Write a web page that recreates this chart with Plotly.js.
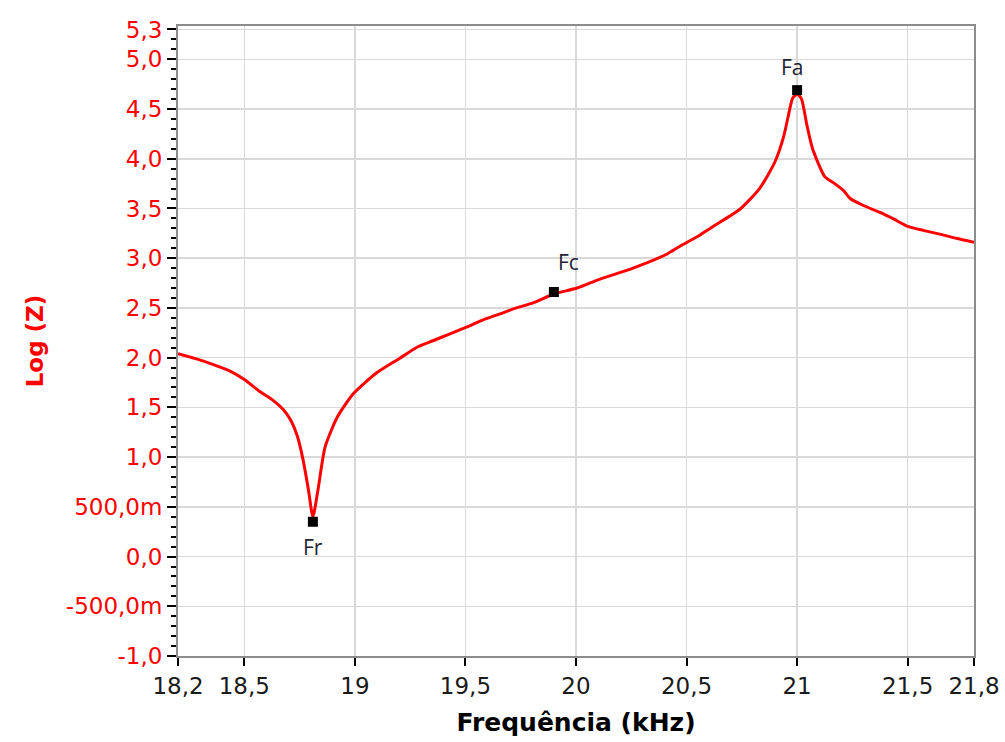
<!DOCTYPE html>
<html>
<head>
<meta charset="utf-8">
<script src="https://cdn.plot.ly/plotly-3.0.1.min.js"></script>
<style>html,body{margin:0;padding:0;background:#fff;}#chart{width:1005px;height:742px;}</style>
</head>
<body>
<div id="chart"></div>
<script>
// Frequency (kHz) and Log(Z)
const freq = [18.2, 18.28, 18.36, 18.44, 18.5, 18.57, 18.63, 18.675, 18.71, 18.74, 18.765, 18.79, 18.81,
  18.833, 18.865, 18.92, 18.99, 19.1, 19.2, 19.285, 19.353, 19.43, 19.507, 19.58, 19.656, 19.73, 19.806,
  19.9, 20.005, 20.109, 20.258, 20.41, 20.47, 20.552, 20.62, 20.74, 20.83, 20.9, 20.94, 20.96, 20.98, 21.0,
  21.02, 21.045, 21.07, 21.125, 21.17, 21.21, 21.24, 21.3, 21.375, 21.44, 21.5, 21.57, 21.65, 21.72, 21.8];
const logZ = [2.04, 1.99, 1.93, 1.86, 1.78, 1.66, 1.57, 1.48, 1.37, 1.21, 0.98, 0.67, 0.40,
  0.67, 1.10, 1.40, 1.63, 1.85, 1.99, 2.11, 2.17, 2.24, 2.31, 2.38, 2.44, 2.50, 2.55,
  2.64, 2.70, 2.79, 2.90, 3.04, 3.12, 3.22, 3.32, 3.49, 3.70, 3.97, 4.23, 4.43, 4.61, 4.65,
  4.60, 4.33, 4.10, 3.82, 3.75, 3.68, 3.60, 3.53, 3.46, 3.39, 3.32, 3.28, 3.24, 3.20, 3.16];

// Marked points
const markNames = ["Fr", "Fc", "Fa"];
const markFreq = [18.81, 19.9, 21.0];
const markLogZ = [0.35, 2.66, 4.69];

// Tick values and labels
const xTickVals = [18.2, 18.5, 19, 19.5, 20, 20.5, 21, 21.5, 21.8];
const xTickText = ["18,2", "18,5", "19", "19,5", "20", "20,5", "21", "21,5", "21,8"];
const yTickVals = [-1, -0.5, 0, 0.5, 1, 1.5, 2, 2.5, 3, 3.5, 4, 4.5, 5, 5.3];
const yTickText = ["-1,0", "-500,0m", "0,0", "500,0m", "1,0", "1,5", "2,0", "2,5", "3,0", "3,5", "4,0", "4,5", "5,0", "5,3"];

// label offsets (pixels) for the marker captions
const labelShiftX = [0, 15, -5];
const labelShiftY = [-25, 30, 23];

const traces = [
  {
    x: freq, y: logZ, type: "scatter", mode: "lines",
    line: {color: "#ff0000", width: 3, shape: "spline", smoothing: 0.6}, showlegend: false
  },
  {
    x: markFreq, y: markLogZ, type: "scatter", mode: "markers",
    marker: {symbol: "square", size: 10, color: "#000000"}, showlegend: false
  }
];

const annotations = markNames.map((n, i) => ({
  x: markFreq[i], y: markLogZ[i], xref: "x", yref: "y", text: n, showarrow: false,
  xshift: labelShiftX[i], yshift: labelShiftY[i],
  font: {family: "Open Sans, DejaVu Sans, sans-serif", size: 21, color: "#222233"}
}));

const layout = {
  width: 1005, height: 742,
  margin: {l: 178, r: 31, t: 26, b: 86},
  paper_bgcolor: "#ffffff", plot_bgcolor: "#ffffff",
  font: {family: "DejaVu Sans, sans-serif"},
  showlegend: false,
  annotations: annotations,
  xaxis: {
    range: [18.2, 21.8], tickmode: "array", tickvals: xTickVals, ticktext: xTickText,
    ticks: "outside", ticklen: 8, tickwidth: 2, tickcolor: "#000000",
    tickfont: {family: "DejaVu Sans, sans-serif", size: 23, color: "#1a1a1a"},
    showgrid: true, gridcolor: "#d9d9d9", gridwidth: 1.5,
    showline: true, linecolor: "#8c8c8c", linewidth: 2, mirror: true,
    zeroline: false,
    title: {text: "Frequência (kHz)", font: {family: "DejaVu Sans, sans-serif", size: 25, color: "#000000", weight: "bold"}, standoff: 16}
  },
  yaxis: {
    range: [-1.0, 5.335], tickmode: "array", tickvals: yTickVals, ticktext: yTickText,
    ticks: "outside", ticklen: 9, tickwidth: 2, tickcolor: "#000000",
    tickfont: {family: "DejaVu Sans, sans-serif", size: 23, color: "#ff0000"},
    minor: {dtick: 0.1, tick0: 0, ticks: "outside", ticklen: 5, tickwidth: 2, tickcolor: "#000000", showgrid: false},
    showgrid: true, gridcolor: "#d9d9d9", gridwidth: 1.5,
    showline: true, linecolor: "#8c8c8c", linewidth: 2, mirror: true,
    zeroline: false,
    title: {text: "Log (Z)", font: {family: "DejaVu Sans, sans-serif", size: 23, color: "#ff0000", weight: "bold"}, standoff: 16}
  }
};

Plotly.newPlot("chart", traces, layout, {displayModeBar: false, staticPlot: true});
</script>
</body>
</html>
